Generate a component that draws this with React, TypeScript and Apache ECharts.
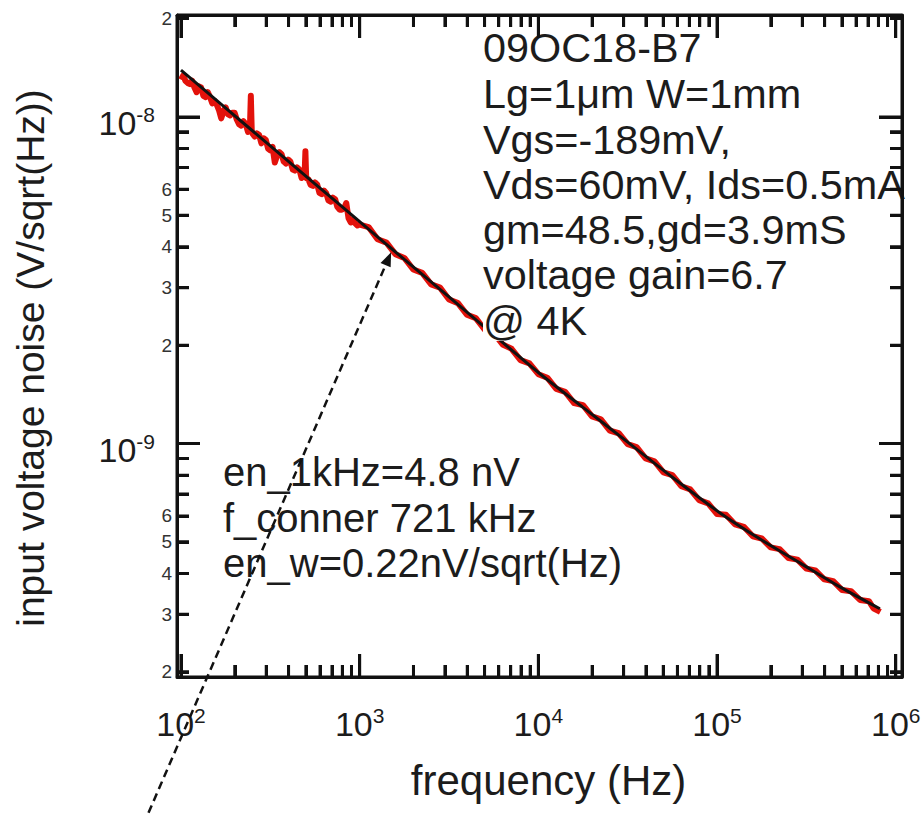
import React, { useEffect, useRef } from "react";
import * as echarts from "echarts";

// measured input-referred voltage noise: [frequency Hz, noise nV/sqrt(Hz)]
const measured: [number, number][] = [
  [100, 13.0], [103, 13.4], [105.9, 12.9], [109, 12.7], [112.2, 12.6], [115.5, 12.9], [118.9, 12.3],
  [122.3, 11.9], [125.9, 12.4], [129.6, 12.3], [133.4, 11.6], [137.3, 11.5], [141.3, 11.9], [145.4, 11.5],
  [149.6, 11.0], [154, 11.2], [158.5, 10.9], [163.1, 10.5], [167.9, 9.9], [172.8, 10.4], [177.8, 10.7],
  [183, 10.2], [188.4, 10.1], [193.9, 10.3], [199.5, 10.3], [205.4, 9.8], [211.3, 9.5], [217.5, 9.4],
  [223.9, 9.7], [230.4, 9.5], [237.1, 9.0], [243, 9.2], [246, 11.6], [249, 9.0], [251.2, 8.9],
  [258.5, 8.7], [266.1, 8.9], [273.8, 8.8], [281.8, 8.3], [290, 8.6], [298.5, 8.5], [307.2, 8.0],
  [316.2, 7.9], [325.4, 8.1], [335, 7.25], [344.7, 7.6], [354.8, 7.8], [365.1, 7.7], [375.8, 7.3],
  [386.7, 7.2], [398.1, 7.4], [409.6, 7.3], [421.7, 6.9], [434, 6.85], [446.7, 7.0], [459.7, 6.9],
  [473.2, 6.5], [486, 6.6], [492, 6.7], [497, 7.85], [502, 6.5], [516, 6.45], [530.9, 6.2],
  [547, 6.15], [562.3, 6.3], [579, 6.2], [595.7, 5.85], [613, 5.8], [631, 5.95], [649, 5.85],
  [668.3, 5.55], [688, 5.5], [707.9, 5.66], [729, 5.6], [749.9, 5.3], [772, 5.2], [794.3, 5.2],
  [818, 5.25], [841.4, 5.45], [866, 4.9], [891.3, 4.75], [917, 4.85], [944.1, 4.72], [972, 4.65],
  [1000, 4.68], [1122, 4.6], [1259, 4.22], [1413, 4.12], [1585, 3.8], [1778, 3.7], [1995, 3.41],
  [2239, 3.33], [2512, 3.07], [2818, 3.0], [3162, 2.76], [3548, 2.69], [3981, 2.48], [4467, 2.42],
  [5012, 2.23], [5623, 2.18], [6310, 2.01], [7079, 1.95], [7943, 1.8], [8913, 1.76], [10000, 1.63],
  [11220, 1.59], [12590, 1.47], [14130, 1.44], [15850, 1.33], [17780, 1.31], [19950, 1.21],
  [22390, 1.185], [25120, 1.095], [28180, 1.075], [31620, 0.995], [35480, 0.975], [39810, 0.9],
  [44670, 0.882], [50120, 0.816], [56230, 0.8], [63100, 0.74], [70790, 0.724], [79430, 0.671],
  [89130, 0.656], [100000, 0.608], [112200, 0.605], [125900, 0.566], [141300, 0.556], [158500, 0.52],
  [177800, 0.512], [199500, 0.481], [223900, 0.475], [251200, 0.446], [281800, 0.441], [316200, 0.414],
  [354800, 0.409], [398100, 0.384], [446700, 0.379], [501200, 0.356], [562300, 0.353], [631000, 0.332],
  [707900, 0.329], [750000, 0.313], [820000, 0.305],
];

// fitted curve
const fitFreq = [100, 178, 316, 562, 1000, 1778, 3162, 5623, 10000, 17780, 31620, 56230, 104000, 174000, 291000, 487000, 815000];
const fitNv = [13.9, 10.64, 8.15, 6.24, 4.78, 3.66, 2.81, 2.15, 1.65, 1.29, 1.01, 0.788, 0.613, 0.51, 0.431, 0.364, 0.312];

// axis ticks
const xMajorTicks = [100, 1e3, 1e4, 1e5, 1e6];
const xDecades = [100, 1e3, 1e4, 1e5];
const minorMult = [2, 3, 4, 5, 6, 7, 8, 9];
const yMajorTicks = [1e-8, 1e-9];
const yLabelledMinor = [2e-8, 6e-9, 5e-9, 4e-9, 3e-9, 2e-9, 6e-10, 5e-10, 4e-10, 3e-10, 2e-10];
const yMinorTicks = [2e-8, 9e-9, 8e-9, 7e-9, 6e-9, 5e-9, 4e-9, 3e-9, 2e-9, 9e-10, 8e-10, 7e-10, 6e-10, 5e-10, 4e-10, 3e-10, 2e-10];

const xRange = [95, 1.084e6];
const yRange = [1.928e-10, 2.051e-8];

const infoLines = [
  "09OC18-B7",
  "Lg=1μm W=1mm",
  "Vgs=-189mV,",
  "Vds=60mV, Ids=0.5mA",
  "gm=48.5,gd=3.9mS",
  "voltage gain=6.7",
  "@ 4K",
];
const fitLines = ["en_1kHz=4.8 nV", "f_conner 721 kHz", "en_w=0.22nV/sqrt(Hz)"];
const xTitle = "frequency (Hz)";
const yTitle = "input voltage noise (V/sqrt(Hz))";
const arrowFrom = [65.8, 7.4e-11];
const arrowTo = [1500, 3.85e-9];

const FONT = '"Liberation Sans", Arial, Helvetica, sans-serif';
const INK = "#1c1c1c";
const RED = "#e3120b";
const L = (v: number) => Math.log10(v);

const GRID = { left: 177, right: 21, top: 15, bottom: 139 };
const W = 923;
const H = 816;

export default function App() {
  const ref = useRef<HTMLDivElement>(null);
  useEffect(() => {
    if (!ref.current) return;
    const chart = echarts.init(ref.current, null, { renderer: "svg" });
    const xMinor: number[] = [];
    xDecades.forEach((d) => minorMult.forEach((m) => xMinor.push(d * m)));

    const xMinL = L(xRange[0]);
    const xMaxL = L(xRange[1]);
    const yMinL = L(yRange[0]);
    const yMaxL = L(yRange[1]);
    const plotW = W - GRID.left - GRID.right;
    const plotH = H - GRID.top - GRID.bottom;
    const perPxX = (xMaxL - xMinL) / plotW;
    const perPxY = (yMaxL - yMinL) / plotH;

    // ticks: [log value, length px], sorted
    const xTicks: number[][] = [
      ...xMajorTicks.map((v) => [L(v), 23]),
      ...xMinor.map((v) => [L(v), 12]),
    ].sort((a, b) => a[0] - b[0]);
    const yTicks: number[][] = [
      ...yMajorTicks.map((v) => [L(v), 23]),
      ...yMinorTicks.map((v) => [L(v), 12]),
    ].sort((a, b) => a[0] - b[0]);

    // tick segments in data coordinates (lines series)
    const tickSegs: number[][][] = [];
    xTicks.forEach(([v, len]) => {
      tickSegs.push([[v, yMinL], [v, yMinL + len * perPxY]]);
      tickSegs.push([[v, yMaxL], [v, yMaxL - len * perPxY]]);
    });
    yTicks.forEach(([v, len]) => {
      tickSegs.push([[xMinL, v], [xMinL + len * perPxX, v]]);
      tickSegs.push([[xMaxL, v], [xMaxL - len * perPxX, v]]);
    });

    const rich = {
      b: { fontSize: 34, lineHeight: 34, padding: [12, 0, 0, 0], color: INK, fontFamily: FONT },
      s: { fontSize: 21, lineHeight: 20, padding: [4, 0, 0, 0], verticalAlign: "top", color: INK, fontFamily: FONT },
    };
    const axisLine = { show: true, onZero: false, lineStyle: { color: "#111", width: 3 } };
    const xBase = {
      type: "value",
      min: xMinL,
      max: xMaxL,
      splitLine: { show: false },
      axisTick: { show: false },
      axisLine,
    };
    const yBase = {
      type: "value",
      min: yMinL,
      max: yMaxL,
      splitLine: { show: false },
      axisTick: { show: false },
      axisLine,
    };
    const majorFmt = (v: number) => `{b|10}{s|${Math.round(v)}}`;

    const option: any = {
      animation: false,
      grid: { ...GRID, outerBoundsMode: "none", containLabel: false },
      xAxis: [
        {
          ...xBase,
          position: "bottom",
          axisLabel: { show: true, customValues: xMajorTicks.map(L), margin: 24, formatter: majorFmt, rich },
        },
        { ...xBase, position: "top", axisLabel: { show: false } },
      ],
      yAxis: [
        {
          ...yBase,
          position: "left",
          axisLabel: { show: true, customValues: yMajorTicks.map(L), margin: 22, formatter: majorFmt, rich },
          name: yTitle,
          nameLocation: "middle",
          nameGap: 127,
          nameMoveOverlap: false,
          nameTextStyle: { fontSize: 39, fontFamily: FONT, color: INK, padding: [0, 24, 0, 0] },
        },
        {
          ...yBase,
          position: "left",
          axisLine: { show: false },
          axisLabel: {
            show: true,
            customValues: yLabelledMinor.map(L),
            margin: 5,
            fontSize: 19,
            fontFamily: FONT,
            color: "#333",
            formatter: (v: number) => String(Math.round(Math.pow(10, v - Math.floor(v + 1e-9)))),
          },
        },
        { ...yBase, position: "right", axisLabel: { show: false } },
      ],
      series: [
        {
          type: "line",
          name: "measured",
          xAxisIndex: 0,
          yAxisIndex: 0,
          data: measured.map(([f, v]) => [L(f), L(v * 1e-9)]),
          showSymbol: false,
          symbol: "none",
          silent: true,
          lineStyle: { color: RED, width: 6, join: "round" },
          z: 2,
        },
        {
          type: "line",
          name: "fit",
          xAxisIndex: 0,
          yAxisIndex: 0,
          data: fitFreq.map((f, i) => [L(f), L(fitNv[i] * 1e-9)]),
          showSymbol: false,
          symbol: "none",
          smooth: 0.3,
          silent: true,
          lineStyle: { color: "#111", width: 3 },
          z: 3,
        },
        {
          type: "lines",
          name: "ticks",
          coordinateSystem: "cartesian2d",
          xAxisIndex: 0,
          yAxisIndex: 0,
          polyline: false,
          silent: true,
          clip: false,
          symbol: "none",
          effect: { show: false },
          lineStyle: { color: "#111", width: 3, opacity: 1, curveness: 0 },
          data: tickSegs.map((c) => ({ coords: c })),
          z: 8,
        },
      ],
    };
    chart.setOption(option);

    const px = (xv: number, yv: number) =>
      chart.convertToPixel({ xAxisIndex: 0, yAxisIndex: 0 }, [xv, yv]) as number[];

    const elements: any[] = [];
    const combStyle = () => ({ stroke: "#111", lineWidth: 3, fill: null, lineJoin: "miter" });
    // comb polylines along each side of the frame
    const bottom: number[][] = [px(xMinL, yMinL)];
    const top: number[][] = [px(xMinL, yMaxL)];
    xTicks.forEach(([v, len]) => {
      const b = px(v, yMinL);
      const t = px(v, yMaxL);
      bottom.push([b[0], b[1]], [b[0], b[1] - len], [b[0], b[1]]);
      top.push([t[0], t[1]], [t[0], t[1] + len], [t[0], t[1]]);
    });
    bottom.push(px(xMaxL, yMinL));
    top.push(px(xMaxL, yMaxL));
    const left: number[][] = [px(xMinL, yMinL)];
    const right: number[][] = [px(xMaxL, yMinL)];
    yTicks.forEach(([v, len]) => {
      const l = px(xMinL, v);
      const r = px(xMaxL, v);
      left.push([l[0], l[1]], [l[0] + len, l[1]], [l[0], l[1]]);
      right.push([r[0], r[1]], [r[0] - len, r[1]], [r[0], r[1]]);
    });
    left.push(px(xMinL, yMaxL));
    right.push(px(xMaxL, yMaxL));
    [bottom, top, left, right].forEach((pts) => {
      elements.push({ type: "polyline", z: 200, silent: true, shape: { points: pts }, style: combStyle() });
    });

    const p1 = px(L(arrowFrom[0]), L(arrowFrom[1]));
    const p2 = px(L(arrowTo[0]), L(arrowTo[1]));
    const dx = p2[0] - p1[0];
    const dy = p2[1] - p1[1];
    const dist = Math.sqrt(dx * dx + dy * dy);
    const ux = dx / dist;
    const uy = dy / dist;
    const nx = -uy;
    const ny = ux;
    const headLen = 14;
    const headW = 5.5;
    const base = [p2[0] - ux * headLen, p2[1] - uy * headLen];

    const textStyle = (text: string, extra: any = {}) => ({
      text,
      fontSize: 40,
      fontFamily: FONT,
      fill: INK,
      align: "left",
      verticalAlign: "middle",
      ...extra,
    });
    const infoY = [48, 94, 140, 185, 230, 275, 321];
    const fitY = [472, 518, 563];
    infoLines.forEach((t, i) => {
      elements.push({
        type: "text",
        x: 483,
        y: infoY[i],
        scaleX: 1.035,
        z: 100,
        style: textStyle(t, t.startsWith("@") ? { backgroundColor: "#fff" } : {}),
      });
    });
    fitLines.forEach((t, i) => {
      elements.push({ type: "text", x: 223, y: fitY[i], z: 100, style: textStyle(t) });
    });
    elements.push({
      type: "text",
      x: GRID.left + plotW / 2 + 9,
      y: 780,
      z: 100,
      style: textStyle(xTitle, { fontSize: 42, align: "center" }),
    });
    elements.push({
      type: "line",
      z: 210,
      shape: { x1: p1[0], y1: p1[1], x2: p2[0] - ux * 10, y2: p2[1] - uy * 10 },
      style: { stroke: "#111", lineWidth: 2.5, lineDash: [8, 5] },
    });
    elements.push({
      type: "polygon",
      z: 211,
      shape: {
        points: [
          [p2[0], p2[1]],
          [base[0] + nx * headW, base[1] + ny * headW],
          [base[0] - nx * headW, base[1] - ny * headW],
        ],
      },
      style: { fill: "#111" },
    });
    chart.setOption({ graphic: elements });

    return () => chart.dispose();
  }, []);
  return (
    <div
      ref={ref}
      style={{ position: "fixed", left: 0, top: 0, width: W, height: H, background: "#fff" }}
    />
  );
}
